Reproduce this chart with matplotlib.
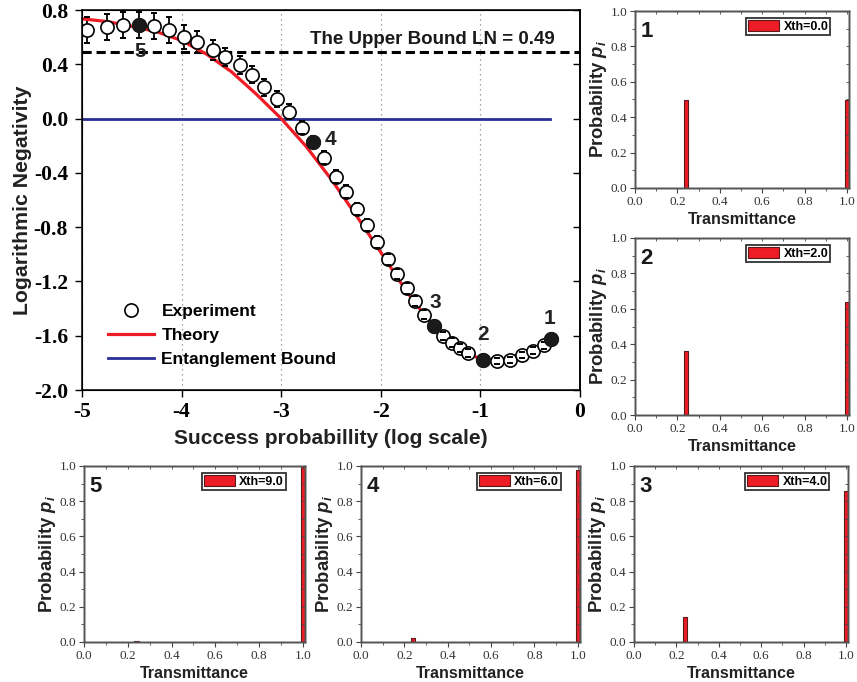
import matplotlib
matplotlib.use("Agg")
import matplotlib.pyplot as plt
from matplotlib.ticker import MultipleLocator
from matplotlib.lines import Line2D

plt.rcParams['mathtext.fontset'] = 'custom'
plt.rcParams['mathtext.it'] = 'Liberation Sans:bold:italic'
plt.rcParams['mathtext.rm'] = 'Liberation Sans:bold'

# ---------------- data ----------------
exp_x = [-4.947, -4.752, -4.591, -4.431, -4.277, -4.123, -3.976, -3.842, -3.688, -3.564,
         -3.414, -3.296, -3.173, -3.039, -2.919, -2.794, -2.678, -2.570, -2.450, -2.349,
         -2.236, -2.142, -2.041, -1.925, -1.834, -1.734, -1.652, -1.566, -1.461, -1.376,
         -1.285, -1.200, -1.120, -0.974, -0.833, -0.703, -0.582, -0.469, -0.361, -0.294]
exp_y = [0.655, 0.672, 0.689, 0.692, 0.684, 0.655, 0.603, 0.566, 0.507, 0.453,
         0.394, 0.324, 0.230, 0.143, 0.052, -0.066, -0.172, -0.287, -0.427, -0.538,
         -0.669, -0.785, -0.910, -1.038, -1.145, -1.252, -1.344, -1.444, -1.525, -1.599,
         -1.650, -1.691, -1.728, -1.776, -1.787, -1.779, -1.742, -1.709, -1.672, -1.623]
exp_err = [0.095, 0.095, 0.095, 0.095, 0.095, 0.095, 0.09, 0.08, 0.075, 0.065,
           0.065, 0.065, 0.06, 0.06, 0.055, 0.05, 0.04, 0.045, 0.045, 0.045,
           0.045, 0.045, 0.045, 0.04, 0.04, 0.04, 0.04, 0.035, 0.035, 0.03,
           0.03, 0.03, 0.03, 0.025, 0.025, 0.025, 0.025, 0.025, 0.025, 0.025]

# highlighted points (labels 1..5)
sel_labels = ['1', '2', '3', '4', '5']
sel_x = [-0.294, -0.974, -1.461, -2.678, -4.431]
sel_y = [-1.623, -1.776, -1.525, -0.172, 0.692]
sel_lx = [-0.31, -0.974, -1.456, -2.51, -4.42]
sel_ly = [-1.47, -1.59, -1.355, -0.152, 0.495]

theory_x = [-5.0, -4.75, -4.5, -4.25, -4.0, -3.75, -3.5, -3.25, -3.0, -2.75, -2.5, -2.25,
            -2.0, -1.75, -1.6, -1.45, -1.3, -1.15, -1.0, -0.9, -0.8, -0.7, -0.55, -0.45, -0.33]
theory_y = [0.735, 0.715, 0.68, 0.64, 0.575, 0.475, 0.345, 0.18, 0.0, -0.205, -0.445, -0.71,
            -0.985, -1.265, -1.41, -1.545, -1.65, -1.725, -1.77, -1.783, -1.786, -1.777,
            -1.738, -1.697, -1.64]

bound_x = [-5.0, -0.3]
bound_y = [0.0, 0.0]
upper_ln = 0.49

transmittance = [0.24, 1.0]
p_xth0 = [0.50, 0.50]
p_xth2 = [0.36, 0.64]
p_xth4 = [0.14, 0.86]
p_xth6 = [0.02, 0.98]
p_xth9 = [0.003, 1.0]
panel_labels = ['1', '2', '3', '4', '5']
xth_labels = ['Xth=0.0', 'Xth=2.0', 'Xth=4.0', 'Xth=6.0', 'Xth=9.0']

# ---------------- figure ----------------
W, H = 857, 682
fig = plt.figure(figsize=(W / 100, H / 100), dpi=100)

SANS = 'Liberation Sans'
SERIF = 'Liberation Serif'
RED = '#EE1C25'

ax = fig.add_axes([82 / W, 1 - 390 / H, 498 / W, 380 / H])
ax.set_xlim(-5, 0)
ax.set_ylim(-2.0, 0.8)
ax.grid(axis='x', linestyle=(0, (1, 3)), color='#888888', linewidth=0.9)
ax.set_axisbelow(True)

eb = ax.errorbar(exp_x, exp_y, yerr=exp_err, fmt='none', ecolor='black', elinewidth=1.3,
                 capsize=2.5, capthick=1.4)
for c in eb[1]:
    c.set_zorder(6)
for c in eb[2]:
    c.set_zorder(3)
ax.plot(theory_x, theory_y, color=RED, linewidth=2.3, zorder=4)
ax.plot(exp_x, exp_y, linestyle='none', marker='o', markersize=9.5, markerfacecolor='white',
        markeredgecolor='black', markeredgewidth=1.2, zorder=5)
ax.plot(bound_x, bound_y, color='#2A2F96', linewidth=2.0, zorder=2)
ax.axhline(upper_ln, color='black', linestyle=(0, (3, 1.6)), linewidth=2.2, zorder=2)
ax.plot(sel_x, sel_y, linestyle='none', marker='o', markersize=10, color='#1a1a1a', zorder=7)
for lab, lx, ly in zip(sel_labels, sel_lx, sel_ly):
    ax.text(lx, ly, lab, fontsize=15, fontweight='bold', family=SANS, color='#222222',
            ha='center', va='center', zorder=8)
ax.text(-1.48, 0.585, 'The Upper Bound LN = 0.49', fontsize=13.5, fontweight='bold',
        family=SANS, ha='center', va='center', color='#1a1a1a')

ax.set_xlabel('Success probabillity (log scale)', fontsize=15, fontweight='bold',
              family=SANS, color='#222222', labelpad=5)
ax.set_ylabel('Logarithmic Negativity', fontsize=15.3, fontweight='bold', family=SANS,
              color='#222222', labelpad=1)
ax.set_xticks([-5, -4, -3, -2, -1, 0])
ax.set_xticklabels(['-5', '-4', '-3', '-2', '-1', '0'])
ax.set_yticks([0.8, 0.4, 0.0, -0.4, -0.8, -1.2, -1.6, -2.0])
ax.set_yticklabels(['0.8', '0.4', '0.0', '-0.4', '-0.8', '-1.2', '-1.6', '-2.0'])
for t in ax.get_xticklabels() + ax.get_yticklabels():
    t.set_fontfamily(SERIF)
    t.set_fontweight('bold')
    t.set_fontsize(15.5)
ax.tick_params(axis='both', direction='out', length=5, width=1.0)
ax.tick_params(axis='y', pad=5)
for s in ax.spines.values():
    s.set_linewidth(1.2)
    s.set_color('#111111')

axr = ax.twinx()
axr.set_ylim(-2.0, 0.8)
axr.set_yticks([0.8, 0.4, 0.0, -0.4, -0.8, -1.2, -1.6, -2.0])
axr.tick_params(axis='y', direction='in', length=5, width=1.0, labelright=False)
axr.spines['right'].set_linewidth(1.2)

h_exp = Line2D([], [], linestyle='none', marker='o', markersize=9.5, markerfacecolor='white',
               markeredgecolor='black', markeredgewidth=1.2)
h_th = Line2D([], [], color=RED, linewidth=2.3)
h_bd = Line2D([], [], color='#2A2F96', linewidth=2.0)
ax.legend(handles=[h_exp, h_th, h_bd], labels=['Experiment', 'Theory', 'Entanglement Bound'],
          loc='lower left', bbox_to_anchor=(0.02, 0.02), frameon=False,
          prop={'family': SANS, 'weight': 'bold', 'size': 12.5},
          handlelength=2.7, handletextpad=0.4, labelspacing=0.5)

# ---------------- bar panels ----------------
PW = 214
panel_rects = [
    [635 / W, 1 - 188 / H, PW / W, 177 / H],
    [635 / W, 1 - 415 / H, PW / W, 177 / H],
    [634 / W, 1 - 642 / H, PW / W, 176 / H],
    [361 / W, 1 - 642 / H, 219 / W, 176 / H],
    [84 / W, 1 - 642 / H, 221 / W, 176 / H],
]
panel_probs = [p_xth0, p_xth2, p_xth4, p_xth6, p_xth9]

for rect, probs, plab, xlab in zip(panel_rects, panel_probs, panel_labels, xth_labels):
    b = fig.add_axes(rect)
    b.bar(transmittance, probs, width=0.02, color=RED, edgecolor='#5a1a1a',
          linewidth=0.8, label=xlab)
    b.set_xlim(0, 1.01)
    b.set_ylim(0, 1.0)
    b.xaxis.set_minor_locator(MultipleLocator(0.1))
    b.yaxis.set_minor_locator(MultipleLocator(0.1))
    b.set_xticks([0.0, 0.2, 0.4, 0.6, 0.8, 1.0])
    b.set_xticklabels(['0.0', '0.2', '0.4', '0.6', '0.8', '1.0'])
    b.set_yticks([0.0, 0.2, 0.4, 0.6, 0.8, 1.0])
    b.set_yticklabels(['0.0', '0.2', '0.4', '0.6', '0.8', '1.0'])
    for t in b.get_xticklabels() + b.get_yticklabels():
        t.set_fontfamily(SERIF)
        t.set_fontsize(9.5)
        t.set_color('#333333')
    b.tick_params(which='major', direction='out', length=3.5, width=0.8, colors='#444444',
                  labelcolor='#333333', pad=2)
    b.tick_params(which='minor', direction='out', length=2, width=0.6, colors='#444444')
    tw = b.twinx()
    tw.set_ylim(0, 1.0)
    tw.yaxis.set_major_locator(MultipleLocator(0.2))
    tw.yaxis.set_minor_locator(MultipleLocator(0.1))
    tw.tick_params(which='both', direction='in', length=2, width=0.6, colors='#444444',
                   labelright=False)
    ty = b.twiny()
    ty.set_xlim(0, 1.01)
    ty.xaxis.set_major_locator(MultipleLocator(0.2))
    ty.xaxis.set_minor_locator(MultipleLocator(0.1))
    ty.tick_params(which='both', direction='in', length=2, width=0.6, colors='#444444',
                   labeltop=False)
    for a in (b, tw, ty):
        for s in a.spines.values():
            s.set_linewidth(1.0)
            s.set_color('#555555')
    b.set_xlabel('Transmittance', fontsize=11.5, fontweight='bold', family=SANS,
                 color='#222222', labelpad=3)
    b.set_ylabel(r'Probability $p_i$', fontsize=13.3, fontweight='bold', family=SANS,
                 color='#222222', labelpad=1.5)
    b.text(0.025, 0.945, plab, transform=b.transAxes, fontsize=16, fontweight='bold',
           family=SANS, color='#1a1a1a', ha='left', va='top', zorder=10)
    lg = ty.legend(*b.get_legend_handles_labels(), loc='upper right',
                   bbox_to_anchor=(0.93, 0.98), frameon=True,
                   fancybox=False, framealpha=1, edgecolor='#333333',
                   prop={'family': SANS, 'weight': 'bold', 'size': 9},
                   handlelength=2.5, handleheight=1.0, handletextpad=0.35,
                   borderpad=0.15, borderaxespad=0.3)
    lg.get_frame().set_linewidth(1.3)

fig.savefig('out.png', dpi=100)
